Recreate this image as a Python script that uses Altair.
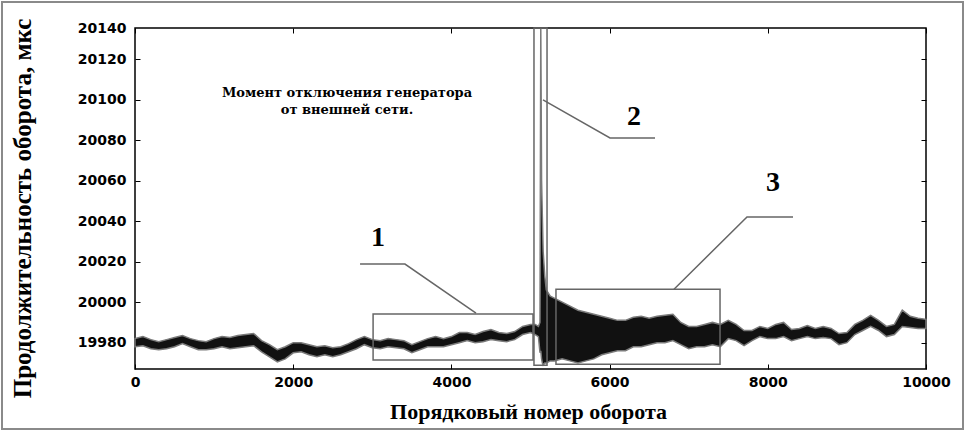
import altair as alt
import pandas as pd

# ---- signal envelope (turn number, lower / upper value, microseconds) ----
x_turn = [0, 100, 200, 300, 400, 500, 600, 700, 800, 900,
          1000, 1100, 1200, 1300, 1400, 1500, 1600, 1700, 1800, 1900,
          2000, 2100, 2200, 2300, 2400, 2500, 2600, 2700, 2800, 2900,
          3000, 3100, 3200, 3300, 3400, 3500, 3600, 3700, 3800, 3900,
          4000, 4100, 4200, 4300, 4400, 4500, 4600, 4700, 4800, 4900,
          5000, 5060, 5100, 5120, 5130, 5140, 5150, 5160, 5180, 5200,
          5250, 5300, 5400, 5500, 5600, 5700, 5800, 5900,
          6000, 6100, 6200, 6300, 6400, 6500, 6600, 6700, 6800, 6900,
          7000, 7100, 7200, 7300, 7400, 7500, 7600, 7700, 7800, 7900,
          8000, 8100, 8200, 8300, 8400, 8500, 8600, 8700, 8800, 8900,
          9000, 9100, 9200, 9300, 9400, 9500, 9600, 9700, 9800, 9900, 10000]
y_lo = [19978, 19978.5, 19977, 19976.5, 19977, 19978, 19979.5, 19978, 19976.5, 19976.5,
        19977, 19978, 19977, 19977.5, 19978, 19978.5, 19975.5, 19973, 19970.5, 19972,
        19975, 19975.5, 19974, 19973, 19974, 19973, 19974, 19975.5, 19977, 19979,
        19977.5, 19977, 19978, 19977.5, 19977, 19975, 19976.5, 19978, 19978, 19978,
        19979, 19980, 19981, 19980, 19980.5, 19981.5, 19981, 19980.5, 19981.5, 19984,
        19985, 19984, 19983, 19975, 19976, 19972, 19970, 19969, 19970, 19970,
        19971, 19971, 19972, 19971, 19970, 19971, 19972, 19974,
        19975, 19976, 19976, 19978, 19978, 19979, 19980, 19980, 19981, 19979,
        19977, 19978, 19978, 19979, 19978, 19982, 19981, 19978.5, 19981, 19983,
        19982, 19982, 19983, 19981, 19982, 19983, 19982, 19982.5, 19982, 19979,
        19980, 19984, 19986, 19988, 19986, 19983, 19984, 19988, 19987.5, 19987, 19987]
y_hi = [19982, 19983, 19981.5, 19980.5, 19981.5, 19982.5, 19983.5, 19982, 19981, 19980.5,
        19982, 19983, 19982.5, 19983.5, 19984, 19984.5, 19981, 19979, 19976.5, 19978,
        19980, 19980, 19979, 19978, 19978.5, 19977.5, 19978, 19979.5, 19981.5, 19983,
        19981.5, 19981, 19982, 19981.5, 19981, 19979, 19980.5, 19982, 19983, 19982,
        19983, 19985, 19985, 19984, 19985.5, 19986.5, 19985, 19984.5, 19985.5, 19988,
        19989, 19989, 19988, 19990, 20135, 20060, 20042, 20025, 20013, 20006,
        20003, 20002, 20000, 19998, 19996, 19995, 19994, 19993,
        19992, 19991, 19991, 19992.5, 19993, 19992, 19993, 19993.5, 19994, 19990,
        19988, 19988, 19989, 19990, 19989, 19991, 19989, 19986, 19986, 19988,
        19987, 19989, 19990, 19986.5, 19987, 19988.5, 19987, 19988, 19987, 19984.5,
        19985, 19989, 19991, 19993.5, 19991, 19988, 19989, 19996, 19993, 19992, 19991.5]

# ---- axes ----
x_ticks = [0, 2000, 4000, 6000, 8000, 10000]
y_ticks = [19980, 20000, 20020, 20040, 20060, 20080, 20100, 20120]
y_top_label_pos = 20135          # where the "20140" label sits (top of axis)
x_domain = [0, 10000]
y_domain = [19967, 20135.3]
x_title = "Порядковый номер оборота"
y_title = "Продолжительность оборота, мкс"

# ---- annotation boxes (x1, x2, y1, y2) ----
box_x1 = [3010, 5044, 5322]
box_x2 = [5032, 5209, 7396]
box_y1 = [19971.4, 19968.9, 19969.4]
box_y2 = [19994.1, 20135.3, 20006.4]

# ---- leader lines ----
lead_id = [1, 1, 1, 2, 2, 2, 3, 3, 3]
lead_ord = [0, 1, 2, 0, 1, 2, 0, 1, 2]
lead_x = [4311, 3413, 2845, 5158, 6005, 6574, 6814, 7737, 8319]
lead_y = [19994.6, 20018.8, 20018.8, 20099.8, 20081.0, 20081.0, 20006.4, 20042.0, 20042.0]

# ---- number labels ----
num_text = ["1", "2", "3"]
num_x = [3072, 6308, 8066]
num_y = [20031.6, 20091.4, 20058.8]

# ---- note text ----
note_text = ["Момент отключения генератора", "от внешней сети."]
note_x = [2680, 2680]
note_y = [20103, 20094.8]

sig = pd.DataFrame({"x": x_turn, "lo": y_lo, "hi": y_hi})
boxes = pd.DataFrame({"x1": box_x1, "x2": box_x2, "y1": box_y1, "y2": box_y2})
leads = pd.DataFrame({"id": lead_id, "o": lead_ord, "x": lead_x, "y": lead_y})
nums = pd.DataFrame({"t": num_text, "x": num_x, "y": num_y})
notes = pd.DataFrame({"t": note_text, "x": note_x, "y": note_y})

xs = alt.Scale(domain=x_domain, nice=False, zero=False)
ys = alt.Scale(domain=y_domain, nice=False, zero=False)

lab_font = "DejaVu Sans"
ttl_font = "Liberation Serif"

ax_bottom = alt.Axis(values=x_ticks, format="d", ticks=False, tickSize=0, domain=False,
                     grid=False, labelFont=lab_font, labelFontWeight="bold", labelFontSize=14,
                     labelColor="black", labelPadding=6, labelFlush=False, labelOverlap=False,
                     title=x_title, titleFont=ttl_font, titleFontSize=22, titleFontWeight="bold",
                     titleColor="black", titleX=393, titleY=42, titleBaseline="middle",
                     titleAlign="center")
ax_left = alt.Axis(values=y_ticks + [y_top_label_pos], ticks=False, tickSize=0, domain=False,
                   grid=False, labelExpr="datum.value > 20130 ? '20140' : format(datum.value, 'd')",
                   labelFont=lab_font, labelFontWeight="bold", labelFontSize=14,
                   labelColor="black", labelPadding=9, labelFlush=False, labelOverlap=False,
                   title=y_title, titleFont=ttl_font, titleFontSize=25, titleFontWeight="bold",
                   titleColor="black", titleAngle=270, titleX=-113, titleY=180,
                   titleAlign="center", titleBaseline="middle")

def tick_axis(orient, vals):
    return alt.Axis(orient=orient, values=vals, labels=False, title=None, domain=False,
                    grid=False, ticks=True, tickSize=5, offset=-5, tickColor="black",
                    tickWidth=1)

signal = alt.Chart(sig).mark_area(color="#111111", stroke="#7a7a7a", strokeWidth=1.5).encode(
    x=alt.X("x:Q", scale=xs, axis=ax_bottom),
    y=alt.Y("lo:Q", scale=ys, axis=ax_left),
    y2="hi:Q",
)

ticks_lb = alt.Chart(sig).mark_line(opacity=0).encode(
    x=alt.X("x:Q", scale=xs, axis=tick_axis("bottom", x_ticks)),
    y=alt.Y("lo:Q", scale=ys, axis=tick_axis("left", y_ticks)),
)
ticks_rt = alt.Chart(sig).mark_line(opacity=0).encode(
    x=alt.X("x:Q", scale=xs, axis=tick_axis("top", x_ticks)),
    y=alt.Y("lo:Q", scale=ys, axis=tick_axis("right", y_ticks)),
)

box_layer = alt.Chart(boxes).mark_rect(filled=False, stroke="#666666", strokeWidth=1.5).encode(
    x=alt.X("x1:Q", scale=xs, axis=None), x2="x2:Q",
    y=alt.Y("y1:Q", scale=ys, axis=None), y2="y2:Q",
)

lead_layer = alt.Chart(leads).mark_line(color="#666666", strokeWidth=1.5).encode(
    x=alt.X("x:Q", scale=xs, axis=None),
    y=alt.Y("y:Q", scale=ys, axis=None),
    detail="id:N", order="o:Q",
)

num_layer = alt.Chart(nums).mark_text(font=ttl_font, fontSize=28, fontWeight="bold",
                                      color="black").encode(
    x=alt.X("x:Q", scale=xs, axis=None),
    y=alt.Y("y:Q", scale=ys, axis=None),
    text="t:N",
)

note_layer = alt.Chart(notes).mark_text(font="DejaVu Serif", fontSize=13, fontWeight="bold",
                                        color="black").encode(
    x=alt.X("x:Q", scale=xs, axis=None),
    y=alt.Y("y:Q", scale=ys, axis=None),
    text="t:N",
)

frame = alt.Chart(pd.DataFrame({"a": [0]})).mark_rect(
    filled=False, stroke="#8a8a8a", strokeWidth=2).encode(
    x=alt.value(-133), x2=alt.value(828), y=alt.value(-26), y2=alt.value(401))

chart = alt.layer(
    signal, ticks_lb, ticks_rt, box_layer, lead_layer, num_layer, note_layer, frame
).resolve_axis(x="independent", y="independent").properties(
    width=791, height=341,
    autosize=alt.AutoSizeParams(type="none"),
    padding={"left": 135, "top": 28, "right": 40, "bottom": 63},
    background="white",
).configure_view(stroke="black", strokeWidth=1.5)

chart.save("out.html", embed_options={"renderer": "svg", "actions": False})
